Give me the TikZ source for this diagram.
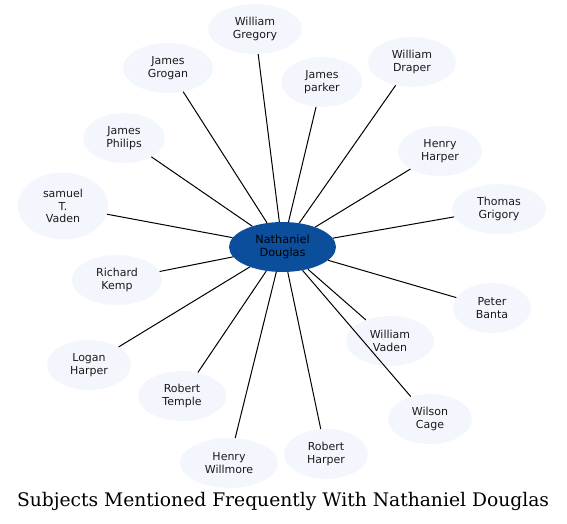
\documentclass[tikz,border=0pt]{standalone}
\usepackage{fontspec}
\newfontfamily\nodefont{DejaVu Sans}
\newfontfamily\titlefont{DejaVu Serif}
\usetikzlibrary{shapes.geometric}
\definecolor{centerblue}{HTML}{0B4F9C}
\definecolor{outerfill}{HTML}{F3F7FD}
\definecolor{nodetext}{HTML}{1A1A1A}
\tikzset{
  person/.style={ellipse, fill=outerfill, draw=none, inner sep=0pt,
    minimum height=50bp, align=center, text=nodetext,
    font=\nodefont\fontsize{11bp}{12.5bp}\selectfont},
  hub/.style={ellipse, fill=centerblue, draw=none, inner sep=0pt,
    minimum width=107bp, minimum height=50bp, align=center, text=black,
    font=\nodefont\fontsize{11.3bp}{12.5bp}\selectfont},
  link/.style={draw=black, line width=1bp},
  titletext/.style={font=\titlefont\fontsize{18.7bp}{22bp}\selectfont, anchor=base}
}
\begin{document}
\begin{tikzpicture}[x=1bp,y=-1bp]
\useasboundingbox (0,0) rectangle (567,524);
\node[hub] (nd) at (282.5,247) {Nathaniel\\Douglas};
\node[person, minimum width=94bp] (wg) at (255,29) {William\\Gregory};
\node[person, minimum width=90bp] (jg) at (168,68) {James\\Grogan};
\node[person, minimum width=81bp] (jp) at (322,82) {James\\parker};
\node[person, minimum width=88bp] (wd) at (412,62) {William\\Draper};
\node[person, minimum width=82bp] (jph) at (124,138) {James\\Philips};
\node[person, minimum width=84bp] (hh) at (440,151) {Henry\\Harper};
\node[person, minimum width=90bp, minimum height=67bp] (stv) at (63,206) {samuel\\T.\\Vaden};
\node[person, minimum width=94bp] (tg) at (499,209) {Thomas\\Grigory};
\node[person, minimum width=90bp] (rk) at (117,280) {Richard\\Kemp};
\node[person, minimum width=78bp] (pb) at (492,308) {Peter\\Banta};
\node[person, minimum width=88bp] (wv) at (390,341) {William\\Vaden};
\node[person, minimum width=84bp] (lh) at (89,365) {Logan\\Harper};
\node[person, minimum width=88bp] (rt) at (182,396) {Robert\\Temple};
\node[person, minimum width=84bp] (wc) at (430,419) {Wilson\\Cage};
\node[person, minimum width=98bp] (hw) at (229,463) {Henry\\Willmore};
\node[person, minimum width=84bp] (rh) at (326,454) {Robert\\Harper};
\foreach \n in {wg,jg,jp,wd,jph,hh,stv,tg,rk,pb,wv,lh,rt,wc,hw,rh}
  \draw[link] (nd) -- (\n);
\node[titletext] (title) at (283,506) {Subjects Mentioned Frequently With Nathaniel Douglas};
\end{tikzpicture}
\end{document}
